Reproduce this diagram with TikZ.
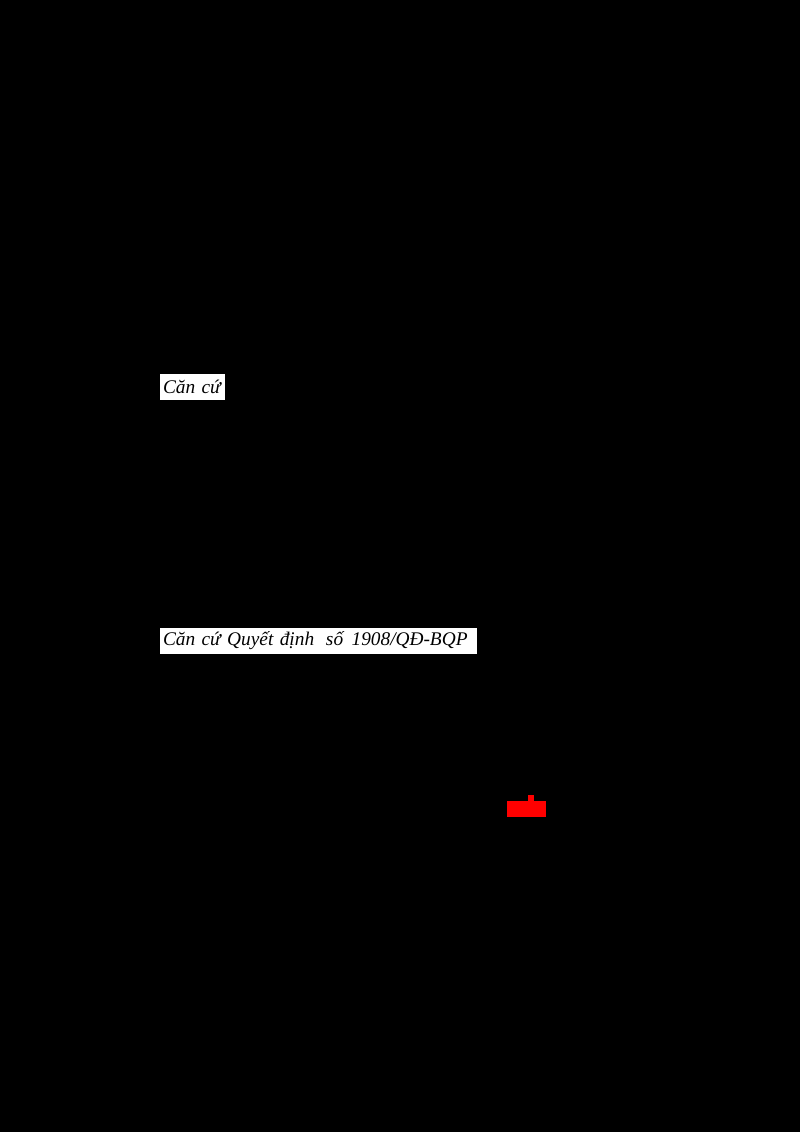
\documentclass[tikz,border=0pt]{standalone}
\usepackage{fontspec}
\setmainfont{Liberation Serif}
\usetikzlibrary{positioning}

\begin{document}
\begin{tikzpicture}[x=0.03cm,y=-0.03cm,
                    every node/.style={inner sep=0pt,outer sep=0pt}]
  \tikzstyle{paper}=[fill=white,anchor=north west,text=black,
                     font=\fontsize{16.5}{18}\selectfont\itshape,
                     align=left,inner xsep=0.09cm,minimum height=0.78cm]

  \fill[black] (0,0) rectangle (800,1132);
  \useasboundingbox (0,0) rectangle (800,1132);

  \node[paper,text width=1.77cm] (C) at (160,374) {Căn cứ};
  \node[paper,text width=9.33cm] (Q) at (160,628)
       {Căn cứ Quyết định\hspace{0.16cm} số\hspace{0.06cm} 1908/QĐ-BQP};

  % red mark
  \fill[red] (507,801) rectangle (546,817);
  \fill[red] (528,795) rectangle (534,801);
\end{tikzpicture}
\end{document}
